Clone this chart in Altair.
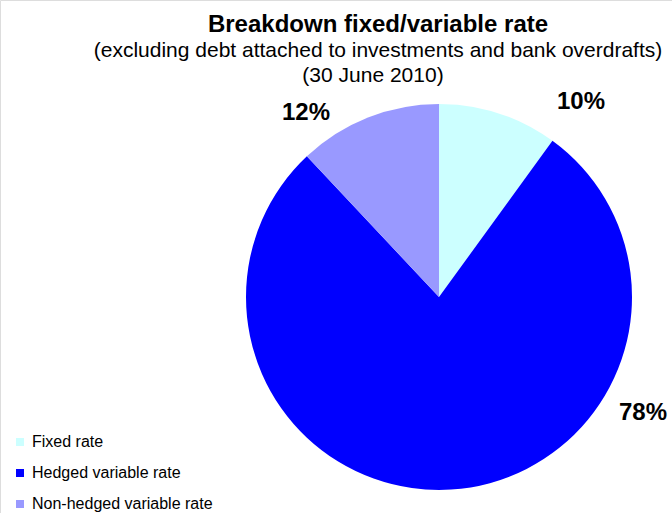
import altair as alt
import pandas as pd

categories = ["Fixed rate", "Hedged variable rate", "Non-hedged variable rate"]
shares = [10, 78, 12]
colors = ["#CCFFFF", "#0000FF", "#9999FF"]

df = pd.DataFrame({
    "category": categories,
    "share": shares,
    "idx": list(range(len(categories))),
    "label": [f"{s}%" for s in shares],
})

FONT = "Liberation Sans"
CX, CY, R = 439, 297, 193

base = alt.Chart(df)

pie = base.mark_arc(outerRadius=R, stroke=None).encode(
    theta=alt.Theta("share:Q", stack=True),
    order=alt.Order("idx:Q"),
    color=alt.Color(
        "category:N",
        scale=alt.Scale(domain=categories, range=colors),
        sort=categories,
        legend=alt.Legend(
            title=None,
            orient="none",
            legendX=12,
            legendY=434,
            symbolType="square",
            symbolSize=64,
            symbolStrokeWidth=0,
            labelFont=FONT,
            labelFontSize=16,
            labelColor="#000000",
            labelLimit=400,
            rowPadding=15,
            padding=0,
            labelOffset=4,
        ),
    ),
    x=alt.value(CX),
    y=alt.value(CY),
)

label_pos = {
    "Fixed rate": (581, 109),
    "Hedged variable rate": (643, 420),
    "Non-hedged variable rate": (306, 120),
}
labels = []
for cat, (lx, ly) in label_pos.items():
    labels.append(
        base.transform_filter(alt.datum.category == cat)
        .mark_text(font=FONT, fontSize=24, fontWeight="bold", color="#000000",
                   align="center", baseline="alphabetic")
        .encode(text="label:N", x=alt.value(lx), y=alt.value(ly))
    )

def title_text(txt, x, y, size, weight="normal"):
    return alt.Chart(pd.DataFrame({"t": [txt]})).mark_text(
        font=FONT, fontSize=size, fontWeight=weight, color="#000000",
        align="center", baseline="alphabetic"
    ).encode(text="t:N", x=alt.value(x), y=alt.value(y))

t1 = title_text("Breakdown fixed/variable rate", 378, 32, 24, "bold")
t2 = title_text("(excluding debt attached to investments and bank overdrafts)", 378, 57, 21)
t3 = title_text("(30 June 2010)", 373, 82, 21)

chart = alt.layer(pie, *labels, t1, t2, t3).properties(
    width=672, height=513,
    autosize=alt.AutoSizeParams(type="none"),
    padding=0,
).configure_view(stroke=None).configure(background="#FFFFFF")

chart.save("out.html", embed_options={"renderer": "svg", "actions": False})
